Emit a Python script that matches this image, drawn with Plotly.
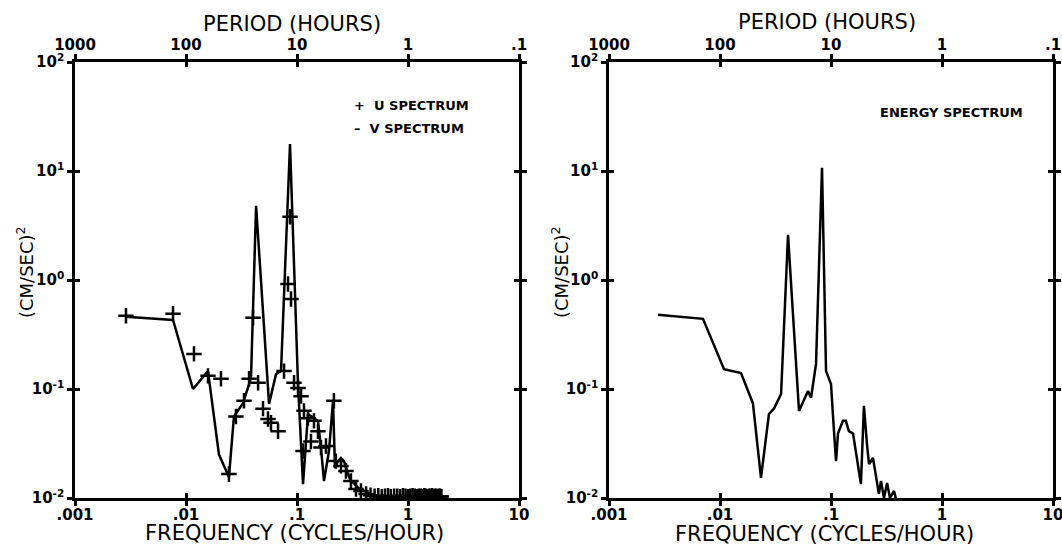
import plotly.graph_objects as go

# ---------------- data ----------------
# Left panel: V spectrum (solid line)
V_FREQ = [0.00288, 0.00764, 0.01156, 0.01578, 0.01982, 0.02438, 0.02704, 0.03263, 0.0385, 0.0428,
          0.0560, 0.0647, 0.0718, 0.0865, 0.1021, 0.1133, 0.1256, 0.1422, 0.1545, 0.1644,
          0.1750, 0.1941, 0.211, 0.220, 0.234, 0.249, 0.265, 0.288, 0.306, 0.326,
          0.355, 0.402, 0.464, 0.50, 2.00]
V_VAL = [0.46, 0.43, 0.100, 0.146, 0.025, 0.0156, 0.056, 0.074, 0.126, 4.8,
         0.073, 0.137, 0.146, 17.7, 0.111, 0.0134, 0.059, 0.054, 0.051, 0.029,
         0.0143, 0.027, 0.078, 0.0189, 0.0218, 0.0233, 0.0218, 0.0166, 0.0143, 0.0137,
         0.0124, 0.0116, 0.0109, 0.0100, 0.0100]

# Left panel: U spectrum (+ markers)
U_FREQ = [0.00288, 0.00764, 0.0118, 0.01578, 0.02066, 0.02438, 0.02818, 0.0333, 0.0370, 0.0402,
          0.0446, 0.0494, 0.0548, 0.0583, 0.0675, 0.0764, 0.0830, 0.0865, 0.0883, 0.0940,
          0.1021, 0.1087, 0.1133, 0.1156, 0.1256, 0.1336, 0.1422, 0.1545, 0.1644, 0.1824,
          0.215, 0.224, 0.249, 0.276, 0.306, 0.340, 0.377, 0.419]
U_VAL = [0.47, 0.49, 0.21, 0.132, 0.124, 0.0166, 0.056, 0.078, 0.124, 0.45,
         0.114, 0.066, 0.053, 0.049, 0.041, 0.146, 0.92, 3.8, 0.67, 0.114,
         0.102, 0.086, 0.027, 0.063, 0.054, 0.033, 0.051, 0.041, 0.029, 0.030,
         0.078, 0.0218, 0.0197, 0.0177, 0.0143, 0.0121, 0.0116, 0.0109]
U_TAIL_FREQ = [0.46, 0.50, 0.54, 0.58, 0.62, 0.66, 0.70, 0.75, 0.80, 0.85, 0.90,
               0.95, 1.00, 1.05, 1.10, 1.15, 1.20, 1.25, 1.30, 1.35, 1.40, 1.45,
               1.50, 1.55, 1.60, 1.65, 1.70, 1.75, 1.80, 1.85, 1.90, 1.95, 2.00]
U_TAIL_VAL = [0.0106, 0.0104, 0.0105, 0.0103, 0.0104, 0.0105, 0.0103, 0.0104, 0.0104, 0.0103, 0.0105,
              0.0104, 0.0103, 0.0104, 0.0105, 0.0104, 0.0103, 0.0104, 0.0104, 0.0103, 0.0105, 0.0104,
              0.0103, 0.0104, 0.0104, 0.0105, 0.0103, 0.0104, 0.0104, 0.0103, 0.0104, 0.0104, 0.0103]

# Right panel: energy spectrum
E_FREQ = [0.00276, 0.00703, 0.01087, 0.01546, 0.0198, 0.0234, 0.0276, 0.0306, 0.0355, 0.0410,
          0.0515, 0.0621, 0.0661, 0.0733, 0.0830, 0.0902, 0.100, 0.1042, 0.1064, 0.111,
          0.1156, 0.128, 0.136, 0.145, 0.158, 0.186, 0.198, 0.211, 0.220, 0.239,
          0.254, 0.270, 0.282, 0.300, 0.320, 0.340, 0.370, 0.385]
E_VAL = [0.48, 0.44, 0.152, 0.140, 0.074, 0.0153, 0.059, 0.066, 0.090, 2.6,
         0.063, 0.096, 0.083, 0.17, 10.7, 0.146, 0.111, 0.051, 0.041, 0.0218,
         0.039, 0.051, 0.051, 0.041, 0.039, 0.0134, 0.070, 0.031, 0.0205, 0.0233,
         0.0166, 0.0109, 0.0143, 0.0100, 0.0137, 0.0100, 0.0116, 0.0098]

FREQ_TICKS = [0.001, 0.01, 0.1, 1, 10]
FREQ_TEXT = ['.001', '.01', '.1', '1', '10']
PERIOD_TEXT = ['1000', '100', '10', '1', '.1']
Y_TICKS = [0.01, 0.1, 1, 10, 100]
Y_TEXT = ['10<sup>-2</sup>', '10<sup>-1</sup>', '10<sup>0</sup>', '10<sup>1</sup>', '10<sup>2</sup>']

# ---------------- figure ----------------
W, H = 1062, 546
FONT = "DejaVu Sans"
TICKFONT = dict(family=FONT, size=15, color='black', weight='bold')


def fx(px):
    return px / W


def fy(py):
    return 1 - py / H


fig = go.Figure()

LEFT_DOM = [fx(75), fx(519)]
RIGHT_DOM = [fx(609), fx(1053)]
Y_DOM = [fy(498), fy(62)]

panels = [
    dict(x='x', y='y', xtop='x3', xin='x5', yin='y3', dom=LEFT_DOM),
    dict(x='x2', y='y2', xtop='x4', xin='x6', yin='y4', dom=RIGHT_DOM),
]


def ax_key(name):
    return ('xaxis' if name[0] == 'x' else 'yaxis') + name[1:]


layout_axes = {}
for p in panels:
    common = dict(type='log', showgrid=False, zeroline=False, linecolor='black',
                  linewidth=2.5, tickcolor='black', tickwidth=2.5, ticklen=5,
                  tickfont=TICKFONT, automargin=False, fixedrange=True,
                  ticklabeloverflow='allow')
    layout_axes[ax_key(p['x'])] = dict(common, domain=p['dom'], anchor=p['y'], range=[-3, 1],
                                       tickvals=FREQ_TICKS, ticktext=FREQ_TEXT, ticks='outside',
                                       showline=True, mirror='ticks', ticklabelstandoff=-4)
    layout_axes[ax_key(p['y'])] = dict(common, domain=Y_DOM, anchor=p['x'], range=[-2, 2],
                                       tickvals=Y_TICKS, ticktext=Y_TEXT, ticks='outside',
                                       showline=True, mirror='ticks')
    layout_axes[ax_key(p['xtop'])] = dict(common, overlaying=p['x'], anchor=p['y'], side='top',
                                          range=[-3, 1], tickvals=FREQ_TICKS, ticktext=PERIOD_TEXT,
                                          ticks='', showline=False, ticklabelstandoff=8)
    layout_axes[ax_key(p['xin'])] = dict(common, overlaying=p['x'], anchor=p['y'], range=[-3, 1],
                                         tickvals=FREQ_TICKS, ticks='inside', showline=True,
                                         mirror='ticks', showticklabels=False)
    layout_axes[ax_key(p['yin'])] = dict(common, overlaying=p['y'], anchor=p['x'], range=[-2, 2],
                                         tickvals=Y_TICKS, ticks='inside', showline=True,
                                         mirror='ticks', showticklabels=False)
    # invisible traces so the overlay axes are drawn
    for xa, ya in [(p['xtop'], p['y']), (p['xin'], p['y']), (p['x'], p['yin'])]:
        fig.add_trace(go.Scatter(x=[0.001, 10], y=[0.01, 100], mode='markers',
                                 marker=dict(opacity=0, size=1), hoverinfo='skip',
                                 showlegend=False, xaxis=xa, yaxis=ya))

# data traces
fig.add_trace(go.Scatter(x=V_FREQ, y=V_VAL, mode='lines', name='V SPECTRUM',
                         line=dict(color='black', width=2.5), xaxis='x', yaxis='y',
                         showlegend=False))
fig.add_trace(go.Scatter(x=U_FREQ + U_TAIL_FREQ, y=U_VAL + U_TAIL_VAL, mode='markers',
                         name='U SPECTRUM', xaxis='x', yaxis='y', showlegend=False,
                         marker=dict(symbol='cross-thin', size=11, color='black',
                                     line=dict(color='black', width=2.5))))
fig.add_trace(go.Scatter(x=E_FREQ, y=E_VAL, mode='lines', name='ENERGY SPECTRUM',
                         line=dict(color='black', width=2.5), xaxis='x2', yaxis='y2',
                         showlegend=False))


def ann(text, px, py, size, angle=0, xanchor='center', weight='normal'):
    return dict(text=text, x=fx(px), y=fy(py), xref='paper', yref='paper',
                showarrow=False, textangle=angle, xanchor=xanchor, yanchor='middle',
                font=dict(family=FONT, size=size, color='black', weight=weight))


annotations = [
    ann('PERIOD (HOURS)', 292, 24, 21),
    ann('PERIOD (HOURS)', 827, 22, 21),
    ann('FREQUENCY (CYCLES/HOUR)', 294, 533, 21),
    ann('FREQUENCY (CYCLES/HOUR)', 824, 534, 21),
    ann('(CM/SEC)<sup>2</sup>', 25, 272, 18, angle=-90),
    ann('(CM/SEC)<sup>2</sup>', 560, 272, 18, angle=-90),
    ann('+  U SPECTRUM', 352, 106, 13, xanchor='left', weight='bold'),
    ann('–  V SPECTRUM', 352, 128, 13, xanchor='left', weight='bold'),
    ann('ENERGY SPECTRUM', 951, 113, 13, weight='bold'),
]

fig.update_layout(width=W, height=H, margin=dict(l=0, r=0, t=0, b=0, autoexpand=False),
                  paper_bgcolor='white', plot_bgcolor='white', showlegend=False,
                  hovermode=False, annotations=annotations, **layout_axes)

# remove the default 8px page margin so the figure fills the window exactly
fig.write_html("out.html", config={'displayModeBar': False},
               post_script="document.body.style.margin='0';document.body.style.overflow='hidden';")
